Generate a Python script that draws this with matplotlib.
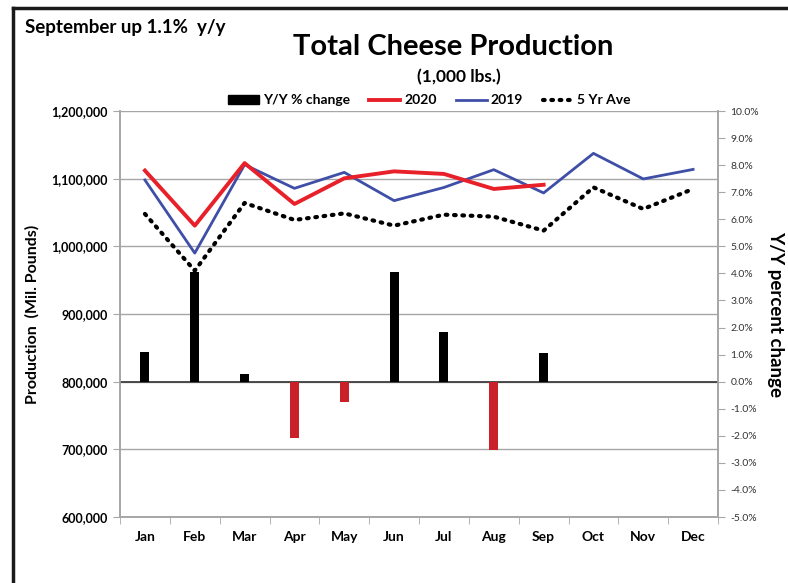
import numpy as np
import matplotlib.pyplot as plt
from matplotlib.lines import Line2D
from matplotlib.patches import Patch

plt.rcParams['font.family'] = ['Lato', 'DejaVu Sans']

months = ['Jan', 'Feb', 'Mar', 'Apr', 'May', 'Jun', 'Jul', 'Aug', 'Sep', 'Oct', 'Nov', 'Dec']
prod_2020 = [1112000, 1030600, 1123000, 1062600, 1100500, 1110800, 1107000, 1084800, 1091000]
prod_2019 = [1098000, 990000, 1120700, 1085700, 1109300, 1067500, 1087000, 1113300, 1078900,
             1137400, 1099600, 1113700]
prod_5yr = [1047900, 964000, 1064100, 1039000, 1048700, 1030600, 1046800, 1043900, 1023200,
            1087200, 1055200, 1084800]
yy_change = [1.08, 4.04, 0.28, -2.08, -0.74, 4.06, 1.82, -2.52, 1.06, 0.0, 0.0, 0.0]

fig = plt.figure(figsize=(7.88, 5.83), dpi=100)
ax = fig.add_axes([0.1523, 0.1132, 0.7589, 0.6964])
ax2 = ax.twinx()
# third axis on top for the lines, sharing the production scale
ax3 = ax2.twinx()
ax2.yaxis.tick_right()
ax2.yaxis.set_label_position('right')

x = np.arange(len(months))
grid_c = '#a6a6a6'

# primary axis: production scale + grid
ax.set_xlim(-0.5, 11.5)
ax.set_ylim(600000, 1200000)
ax.set_yticks(np.arange(600000, 1200001, 100000))
ax.set_yticklabels(['{:,}'.format(v) for v in range(600000, 1200001, 100000)],
                   fontsize=9, fontweight='bold')
ax.yaxis.grid(True, color=grid_c, lw=1)
ax.set_axisbelow(True)

# secondary axis: y/y change bars
bar_colors = ['black' if v >= 0 else '#c9202a' for v in yy_change]
ax2.bar(x, yy_change, width=0.18, color=bar_colors, zorder=2)
ax2.axhline(0, color='#404040', lw=1.3, zorder=1)
ax2.set_ylim(-5, 10)
ax2.set_yticks(np.arange(-5, 10.1, 1))
ax2.set_yticklabels(['{:.1f}%'.format(v) for v in np.arange(-5, 10.1, 1)], fontsize=7.5,
                    color='#333333')

# lines drawn on top
ax3.set_ylim(ax.get_ylim())
ax3.axis('off')
ax3.plot(x, prod_5yr, color='black', lw=3, ls=(0, (0.4, 1.6)), dash_capstyle='round')
ax3.plot(x, prod_2019, color='#3f4ea6', lw=2)
ax3.plot(x[:len(prod_2020)], prod_2020, color='#e8202a', lw=2.8)

ax.set_xticks(x)
ax.set_xticklabels(months, fontsize=10, fontweight='bold')
ax.set_xticks(np.arange(-0.5, 12, 1), minor=True)
ax.tick_params(axis='x', which='major', length=0, pad=10)
ax.tick_params(axis='x', which='minor', length=5, color=grid_c)
ax.tick_params(axis='y', length=5, color=grid_c, pad=4)
ax2.tick_params(axis='y', length=5, color=grid_c, pad=4)

for a in (ax, ax2):
    a.spines['top'].set_visible(False)
    for s in ('left', 'right', 'bottom'):
        a.spines[s].set_color(grid_c)
        a.spines[s].set_linewidth(1.2)

ax.set_ylabel('Production  (Mil. Pounds)', fontsize=11.5, fontweight='bold', labelpad=8)
ax2.set_ylabel('Y/Y percent change', fontsize=13.5, fontweight='bold', rotation=-90, labelpad=18)

fig.text(0.032, 0.953, 'September up 1.1%  y/y', fontsize=13.5, fontweight='bold', va='center')
fig.text(0.575, 0.919, 'Total Cheese Production', fontsize=21, fontweight='bold', ha='center',
         va='center')
fig.text(0.582, 0.868, '(1,000 lbs.)', fontsize=12.5, fontweight='bold', ha='center', va='center')

handles = [Patch(color='black'),
           Line2D([], [], color='#e8202a', lw=2.8),
           Line2D([], [], color='#3f4ea6', lw=2),
           Line2D([], [], color='black', lw=3, ls=(0, (0.4, 1.6)), dash_capstyle='round')]
fig.legend(handles, ['Y/Y % change', '2020', '2019', '5 Yr Ave'], loc='center',
           bbox_to_anchor=(0.545, 0.828), ncol=4, frameon=False,
           prop={'weight': 'bold', 'size': 10}, handlelength=2.2, handletextpad=0.3,
           columnspacing=1.4, handleheight=0.6)

# outer frame (left and top edges)
fig.add_artist(Line2D([0.017, 0.017], [0, 0.986], color='#1a1a1a', lw=2.5))
fig.add_artist(Line2D([0.017, 1.0], [0.986, 0.986], color='#1a1a1a', lw=2.5))

fig.savefig('out.png', dpi=100)
